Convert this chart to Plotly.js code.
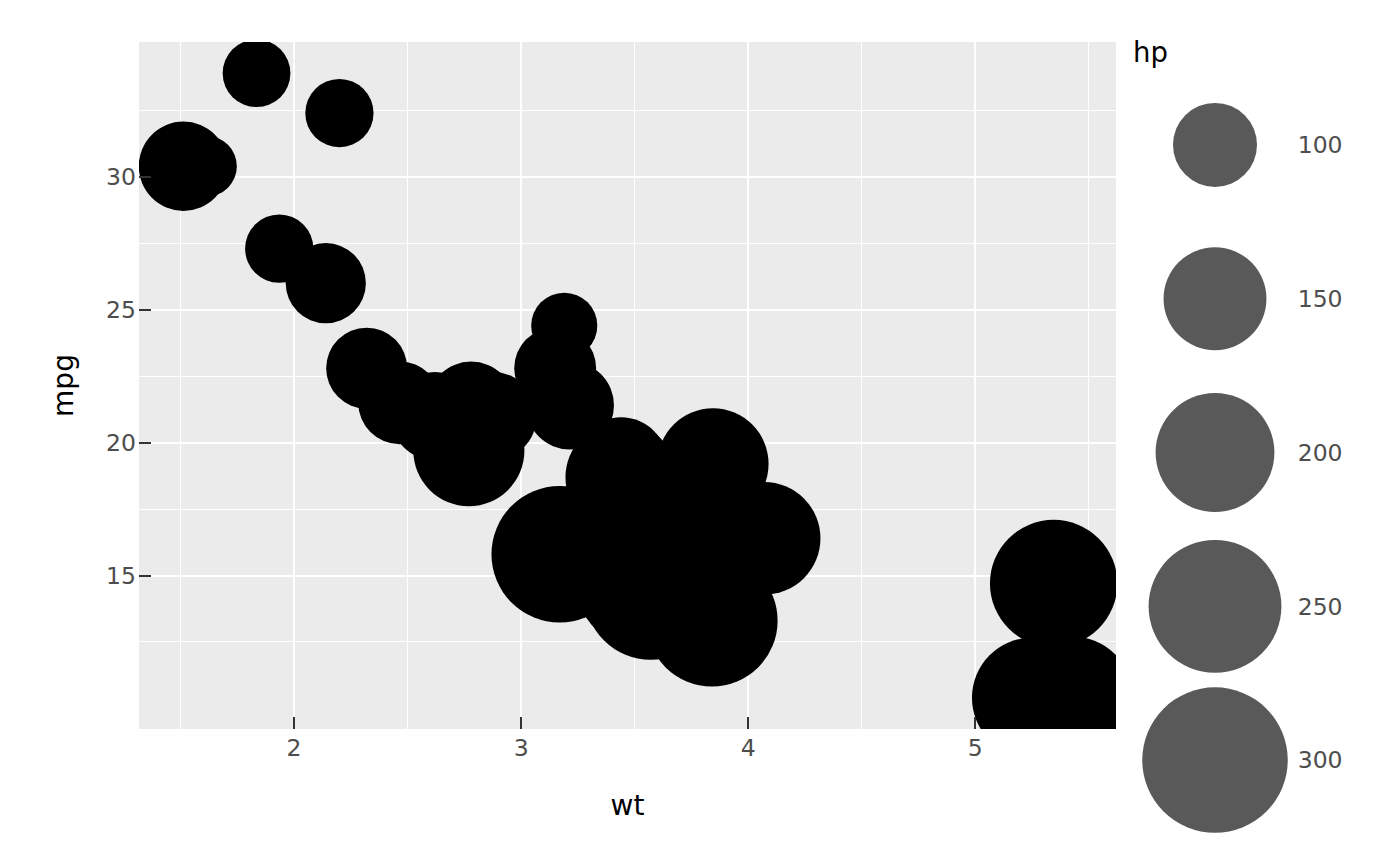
<!DOCTYPE html>
<html>
<head>
<meta charset="utf-8">
<script src="https://cdn.plot.ly/plotly-3.0.1.min.js"></script>
<style>html,body{margin:0;padding:0;background:#fff;}#chart{width:1400px;height:866px;}</style>
</head>
<body>
<div id="chart"></div>
<script>
// mtcars: weight (1000 lbs), miles per gallon, gross horsepower
const wt  = [2.620, 2.875, 2.320, 3.215, 3.440, 3.460, 3.570, 3.190, 3.150, 3.440, 3.440, 4.070, 3.730, 3.780, 5.250, 5.424, 5.345, 2.200, 1.615, 1.835, 2.465, 3.520, 3.435, 3.840, 3.845, 1.935, 2.140, 1.513, 3.170, 2.770, 3.570, 2.780];
const mpg = [21.0, 21.0, 22.8, 21.4, 18.7, 18.1, 14.3, 24.4, 22.8, 19.2, 17.8, 16.4, 17.3, 15.2, 10.4, 10.4, 14.7, 32.4, 30.4, 33.9, 21.5, 15.5, 15.2, 13.3, 19.2, 27.3, 26.0, 30.4, 15.8, 19.7, 15.0, 21.4];
const hp  = [110, 110, 93, 110, 175, 105, 245, 62, 95, 123, 123, 180, 180, 180, 205, 215, 230, 66, 52, 65, 97, 150, 150, 245, 175, 66, 91, 113, 264, 175, 335, 109];
const legendBreaks = [100, 150, 200, 250, 300];
const legendLabels = ['100', '150', '200', '250', '300'];
const xTicks = [2, 3, 4, 5];
const xMinor = [1.5, 2.5, 3.5, 4.5, 5.5];
const yTicks = [15, 20, 25, 30];
const yMinor = [12.5, 17.5, 22.5, 27.5, 32.5];

const W = 1400, H = 866;
const font = 'DejaVu Sans, sans-serif';
// area size scale: diameter = 8.4 * sqrt(hp) px
const sizeRef = 2 / (8.4 * 8.4);

const traces = [
  {
    type: 'scatter', mode: 'markers', x: wt, y: mpg,
    marker: { color: '#000000', size: hp, sizemode: 'area', sizeref: sizeRef, line: { width: 0 }, opacity: 1 },
    hoverinfo: 'skip', showlegend: false, xaxis: 'x', yaxis: 'y'
  },
  {
    type: 'scatter', mode: 'markers', x: legendBreaks.map(() => 0.5), y: legendLabels,
    marker: { color: '#595959', size: legendBreaks, sizemode: 'area', sizeref: sizeRef, line: { width: 0 }, opacity: 1 },
    hoverinfo: 'skip', showlegend: false, xaxis: 'x2', yaxis: 'y2', cliponaxis: false
  }
];

const layout = {
  width: W, height: H,
  margin: { l: 0, r: 0, t: 0, b: 0 },
  paper_bgcolor: '#ffffff',
  plot_bgcolor: 'rgba(0,0,0,0)',
  showlegend: false,
  font: { family: font, color: '#4D4D4D' },
  shapes: [
    { type: 'rect', xref: 'x domain', yref: 'y domain', x0: 0, x1: 1, y0: 0, y1: 1,
      fillcolor: '#EBEBEB', line: { width: 0 }, layer: 'below' }
  ],
  xaxis: {
    domain: [139 / W, 1116 / W],
    range: [1.3175, 5.6195],
    tickvals: xTicks, ticktext: xTicks.map(String),
    ticks: 'inside', ticklen: 12, tickwidth: 2, tickcolor: '#333333',
    tickfont: { family: font, size: 23.5, color: '#4D4D4D' },
    ticklabelstandoff: 2,
    showgrid: true, gridcolor: '#FFFFFF', gridwidth: 2,
    minor: { tickvals: xMinor, showgrid: true, gridcolor: '#FFFFFF', gridwidth: 1, ticks: '' },
    zeroline: false, showline: false, automargin: false, fixedrange: true,
    title: { text: 'wt', font: { family: font, size: 28, color: '#000000' }, standoff: 34 }
  },
  yaxis: {
    domain: [1 - 729 / H, 1 - 42 / H],
    range: [9.225, 35.075],
    tickvals: yTicks, ticktext: yTicks.map(String),
    ticks: 'inside', ticklen: 12, tickwidth: 2, tickcolor: '#333333',
    tickfont: { family: font, size: 23.5, color: '#4D4D4D' },
    ticklabelstandoff: 2,
    showgrid: true, gridcolor: '#FFFFFF', gridwidth: 2,
    minor: { tickvals: yMinor, showgrid: true, gridcolor: '#FFFFFF', gridwidth: 1, ticks: '' },
    zeroline: false, showline: false, automargin: false, fixedrange: true,
    title: { text: 'mpg', font: { family: font, size: 28, color: '#000000' }, standoff: 24 }
  },
  xaxis2: {
    domain: [1142 / W, 1288 / W], anchor: 'y2', range: [0, 1],
    visible: false, fixedrange: true
  },
  yaxis2: {
    domain: [1 - 837 / H, 1 - 68 / H], anchor: 'x2', side: 'right',
    type: 'category', categoryorder: 'array', categoryarray: legendLabels,
    range: [4.5, -0.5],
    showgrid: false, zeroline: false, showline: false,
    ticks: 'outside', ticklen: 4, tickcolor: 'rgba(0,0,0,0)',
    tickfont: { family: font, size: 23.5, color: '#4D4D4D' },
    automargin: false, fixedrange: true
  },
  annotations: [
    { text: 'hp', xref: 'paper', yref: 'paper', x: 1131 / W, y: 1 - 34 / H,
      xanchor: 'left', yanchor: 'top', showarrow: false,
      font: { family: font, size: 27.5, color: '#000000' } }
  ]
};

Plotly.newPlot('chart', traces, layout, { displayModeBar: false, staticPlot: true });
</script>
</body>
</html>
